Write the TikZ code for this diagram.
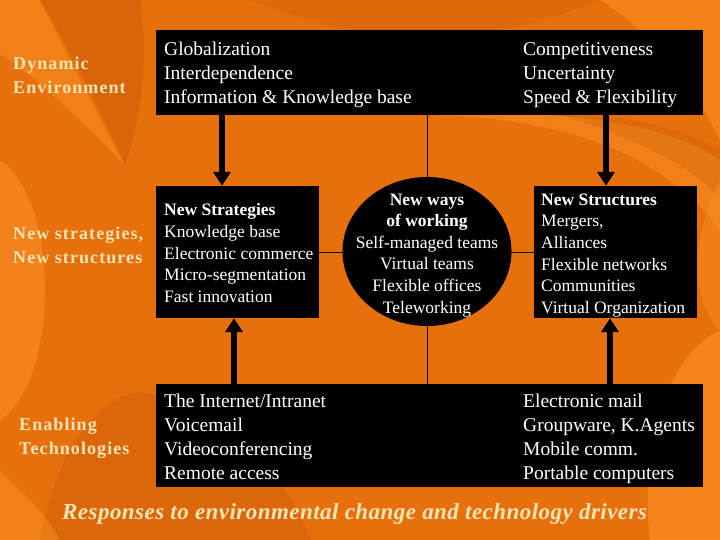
\documentclass[tikz,border=0pt]{standalone}
\usepackage{fontspec}
\setmainfont{Liberation Serif}
\newfontfamily\spacedserif[LetterSpace=6]{Liberation Serif}
\newfontfamily\titleserif[LetterSpace=2]{Liberation Serif}
\usetikzlibrary{arrows.meta,shapes.geometric}
\definecolor{bgor}{HTML}{E8700C}
\definecolor{darkor}{HTML}{B84E06}
\definecolor{lightor}{HTML}{FF9A2A}
\definecolor{cream}{HTML}{F8E6B4}
\tikzset{
  blk/.style={fill=black, draw=none, inner sep=0pt, rectangle},
  bigtxt/.style={text=white, font=\fontsize{19.5}{24}\selectfont, align=left, inner sep=0pt, anchor=north west},
  midtxt/.style={text=white, font=\fontsize{17.5}{21.6}\selectfont, inner sep=0pt},
  lbl/.style={text=cream, font=\spacedserif\bfseries\fontsize{18}{24}\selectfont, align=left, inner sep=0pt, anchor=north west},
  fat/.style={line width=6pt, -{Triangle[width=17pt,length=14pt]}},
  thin/.style={line width=1pt, black}
}
\begin{document}
\begin{tikzpicture}[x=1pt,y=-1pt]
\useasboundingbox (0,0) rectangle (720,540);
% background
\fill[bgor] (0,0) rectangle (720,540);
\fill[lightor, opacity=0.4] (0,0) -- (40,0) .. controls (70,60) and (100,120) .. (125,165) .. controls (80,120) and (30,70) .. (0,55) -- cycle;
\fill[darkor, opacity=0.3] (40,0) -- (140,0) .. controls (150,60) and (140,120) .. (125,165) .. controls (100,110) and (70,50) .. (40,0) -- cycle;
\fill[lightor, opacity=0.45] (0,160) .. controls (60,200) and (60,380) .. (0,420) -- cycle;
\fill[darkor, opacity=0.25] (40,540) .. controls (60,430) and (110,395) .. (140,392) .. controls (200,400) and (290,470) .. (310,540) -- cycle;
\fill[lightor, opacity=0.4] (0,470) .. controls (30,500) and (50,520) .. (60,540) -- (0,540) -- cycle;
\fill[darkor, opacity=0.2] (250,0) .. controls (350,40) and (450,60) .. (600,0) -- cycle;
\fill[lightor, opacity=0.45] (600,0) -- (720,0) -- (720,140) .. controls (690,80) and (650,30) .. (600,0) -- cycle;
\fill[lightor, opacity=0.4] (440,115) .. controls (560,120) and (660,150) .. (720,230) -- (720,160) .. controls (660,120) and (560,110) .. (440,115) -- cycle;
\fill[darkor, opacity=0.2] (560,115) .. controls (640,140) and (700,170) .. (720,200) -- (720,150) .. controls (680,125) and (620,115) .. (560,115) -- cycle;
\fill[lightor, opacity=0.5] (720,330) .. controls (660,360) and (640,460) .. (650,540) -- (720,540) -- cycle;
\fill[lightor, opacity=0.35] (720,180) .. controls (690,240) and (690,300) .. (720,330) -- cycle;

% boxes
\node[blk, minimum width=547pt, minimum height=85pt] (top) at (429.5,72.5) {};
\node[blk, minimum width=163pt, minimum height=132pt] (ns) at (237.5,252) {};
\node[blk, minimum width=163pt, minimum height=132pt] (nst) at (615.5,252) {};
\node[blk, minimum width=547pt, minimum height=103pt] (bot) at (429.5,435.5) {};

% thin connectors
\coordinate (cx) at (427,0);
\draw[thin] (top.south -| cx) -- (bot.north -| cx);
\draw[thin] (ns.east) -- (nst.west);

\node[ellipse, fill=black, inner sep=0pt, minimum width=169pt, minimum height=149pt] (ell) at (427,251.5) {};

% fat arrows
\coordinate (a1) at (222,0);
\coordinate (a2) at (606,0);
\coordinate (b1) at (234,0);
\coordinate (b2) at (610,0);
\draw[fat] (top.south -| a1) -- (ns.north -| a1);
\draw[fat] (top.south -| a2) -- (nst.north -| a2);
\draw[fat] (bot.north -| b1) -- (ns.south -| b1);
\draw[fat] (bot.north -| b2) -- (nst.south -| b2);

% texts
\node[bigtxt] (t1) at (164,42) {Globalization\\Interdependence\\Information \& Knowledge base};
\node[bigtxt] (t2) at (523,42) {Competitiveness\\Uncertainty\\Speed \& Flexibility};
\node[midtxt, align=left, anchor=north west] (t3) at (164,203.5) {\textbf{New Strategies}\\Knowledge base\\Electronic commerce\\Micro-segmentation\\Fast innovation};
\node[midtxt, align=center, anchor=north] (t4) at (427,193.5) {\textbf{New ways}\\\textbf{of working}\\Self-managed teams\\Virtual teams\\Flexible offices\\Teleworking};
\node[midtxt, align=left, anchor=north west] (t5) at (541,193.5) {\textbf{New Structures}\\Mergers,\\Alliances\\Flexible networks\\Communities\\Virtual Organization};
\node[bigtxt] (t6) at (164,394) {The Internet/Intranet\\Voicemail\\Videoconferencing\\Remote access};
\node[bigtxt] (t7) at (523,394) {Electronic mail\\Groupware, K.Agents\\Mobile comm.\\Portable computers};

\node[lbl] (l1) at (13,57) {Dynamic\\Environment};
\node[lbl] (l2) at (13,227) {New strategies,\\New structures};
\node[lbl] (l3) at (19,418) {Enabling\\Technologies};

\node[text=cream, font=\titleserif\bfseries\itshape\fontsize{23}{26}\selectfont, inner sep=0pt, anchor=north west] (title) at (62,503) {Responses to environmental change and technology drivers};
\end{tikzpicture}
\end{document}
